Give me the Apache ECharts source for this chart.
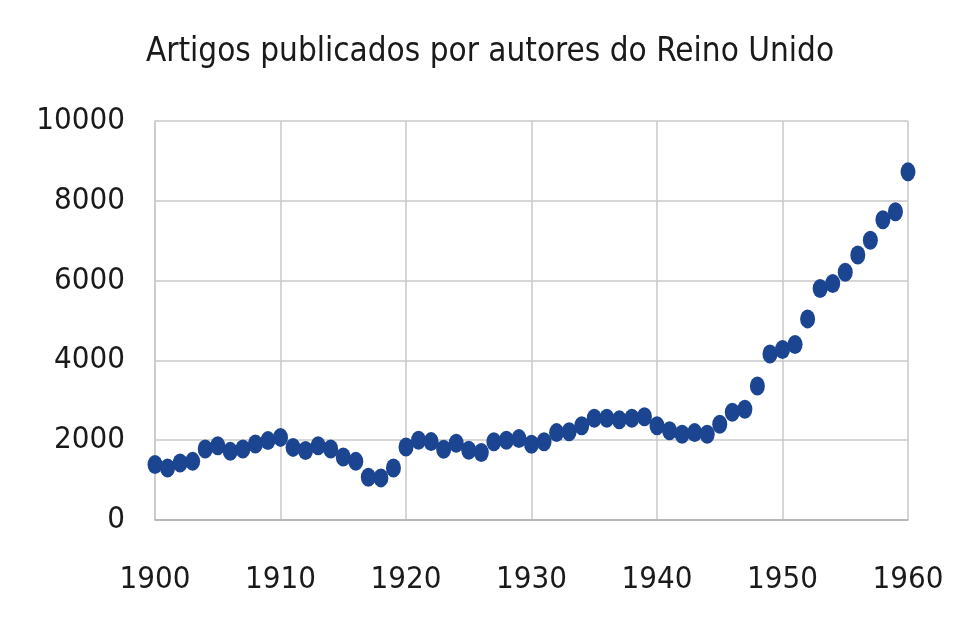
<!DOCTYPE html>
<html>
<head>
<meta charset="utf-8">
<script src="https://cdn.jsdelivr.net/npm/echarts@6/dist/echarts.min.js"></script>
<style>
html,body{margin:0;padding:0;background:#fff;}
#chart{width:980px;height:619px;}
</style>
</head>
<body>
<div id="chart"></div>
<script>
const titleText = "Artigos publicados por autores do Reino Unido";
const years = [1900,1901,1902,1903,1904,1905,1906,1907,1908,1909,
  1910,1911,1912,1913,1914,1915,1916,1917,1918,1919,
  1920,1921,1922,1923,1924,1925,1926,1927,1928,1929,
  1930,1931,1932,1933,1934,1935,1936,1937,1938,1939,
  1940,1941,1942,1943,1944,1945,1946,1947,1948,1949,
  1950,1951,1952,1953,1954,1955,1956,1957,1958,1959,1960];
const articles = [1390,1305,1430,1470,1780,1860,1720,1780,1905,1990,
  2070,1820,1740,1860,1780,1580,1470,1070,1055,1305,
  1830,2000,1965,1775,1925,1750,1690,1960,2000,2040,
  1900,1960,2190,2210,2360,2550,2550,2510,2550,2590,
  2360,2235,2150,2190,2150,2400,2700,2775,3360,4160,
  4275,4400,5040,5800,5925,6210,6640,7010,7525,7725,8725];
const xTicks = [1900,1910,1920,1930,1940,1950,1960];
const yTicks = [0,2000,4000,6000,8000,10000];

const FONT = "'Liberation Sans Narrow', 'DejaVu Sans Condensed', 'Roboto Condensed', sans-serif";
const chart = echarts.init(document.getElementById('chart'));
chart.setOption({
  animation: false,
  backgroundColor: '#ffffff',
  title: {
    text: titleText,
    left: 'center',
    top: 31,
    textStyle: {fontFamily: FONT, fontSize: 33, fontWeight: 'normal', color: '#1a1a1a'}
  },
  grid: {left: 155, right: 72, top: 121, bottom: 99, containLabel: false},
  xAxis: {
    type: 'value',
    min: xTicks[0], max: xTicks[xTicks.length-1], interval: 10,
    axisLine: {show: true, lineStyle: {color: '#b0b0b0', width: 1.5}},
    axisTick: {show: false},
    splitLine: {show: true, lineStyle: {color: '#c8c8c8', width: 1.5}},
    axisLabel: {margin: 44, fontFamily: FONT, fontSize: 31, color: '#1a1a1a',
      formatter: v => String(v)}
  },
  yAxis: {
    type: 'value',
    min: yTicks[0], max: yTicks[yTicks.length-1], interval: 2000,
    axisLine: {show: true, lineStyle: {color: '#c8c8c8', width: 1.5}},
    axisTick: {show: false},
    splitLine: {show: true, lineStyle: {color: '#c8c8c8', width: 1.5}},
    axisLabel: {margin: 30, fontFamily: FONT, fontSize: 31, color: '#1a1a1a',
      formatter: v => String(v)}
  },
  series: [{
    type: 'scatter',
    data: years.map((y, i) => [y, articles[i]]),
    symbol: 'circle',
    symbolSize: [15, 19],
    itemStyle: {color: '#1b4590', opacity: 1}
  }]
});
</script>
</body>
</html>
